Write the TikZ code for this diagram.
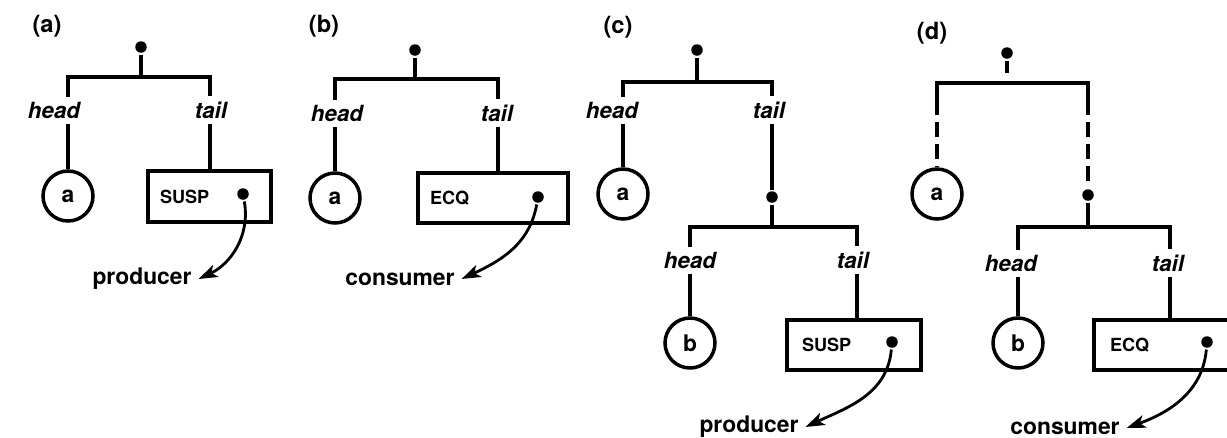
\documentclass[tikz,border=0pt]{standalone}
\usepackage{fontspec}
\setmainfont{TeX Gyre Heros}
\usetikzlibrary{arrows.meta}

\begin{document}
\begin{tikzpicture}[x=0.02cm, y=-0.02cm, line width=2pt, every node/.style={align=center}]
\tikzset{
  lbl/.style={inner sep=0pt, font=\fontsize{13.5}{15}\selectfont\bfseries},
  leaf/.style={draw, circle, minimum size=1cm, inner sep=0pt, font=\fontsize{13}{15}\selectfont\bfseries},
  rec/.style={draw, rectangle, inner sep=0pt},
  intxt/.style={inner sep=0pt, anchor=west, font=\fontsize{10.3}{12}\selectfont\bfseries},
  jdot/.style={fill, circle, minimum size=0.23cm, inner sep=0pt},
  fld/.style={inner sep=2pt, font=\fontsize{12.7}{14}\selectfont\bfseries\itshape},
  ext/.style={inner sep=3pt, font=\fontsize{13}{15}\selectfont\bfseries},
  flow/.style={line width=1.6pt, -{Stealth[length=0.38cm, width=0.26cm, inset=0.1cm]}},
  gone/.style={dash pattern=on 0.3cm off 0.14cm}
}
\useasboundingbox (0,0) rectangle (1227,437);

\node[lbl] (la) at (47,26) {(a)};
\node[jdot] (ra) at (141,47) {};
\coordinate (al) at (68,77);
\coordinate (ar) at (210,77);
\node[fld] (ha) at (54,110) {head};
\node[fld] (ta) at (211,110) {tail};
\node[leaf] (ca) at (68,196) {a};
\node[rec, minimum width=2.46cm, minimum height=1.02cm] (ba) at (209.5,196.5) {};
\node[intxt] (sa) at ([xshift=0.24cm]ba.west) {SUSP};
\node[jdot] (da) at (243,194) {};
\node[ext] (pa) at (142,279) {producer};
\draw (ra) -- (ra |- al);
\draw (ha.north -| al) -- (al) -- (ar) -- (ta.north -| ar);
\draw (ha.south -| al) -- (ca.north);
\draw (ta.south -| ar) -- (ba.north -| ar);
\draw[flow] (da) to[out=-80, in=25] (pa.east);

\node[lbl] (lb) at (324,26) {(b)};
\node[jdot] (rb) at (415,50) {};
\coordinate (bl) at (335,79);
\coordinate (br) at (498,79);
\node[fld] (hb) at (337,113) {head};
\node[fld] (tb) at (497,113) {tail};
\node[leaf] (cb) at (335,198) {a};
\node[rec, minimum width=3cm, minimum height=1cm] (bb) at (493,198) {};
\node[intxt] (sb) at ([xshift=0.24cm]bb.west) {ECQ};
\node[jdot] (db) at (538,197) {};
\node[ext] (qb) at (400,279) {consumer};
\draw (rb) -- (rb |- bl);
\draw (hb.north -| bl) -- (bl) -- (br) -- (tb.north -| br);
\draw (hb.south -| bl) -- (cb.north);
\draw (tb.south -| br) -- (bb.north -| br);
\draw[flow] (db) to[out=-100, in=25] (qb.east);

\node[lbl] (lc) at (618,27) {(c)};
\node[jdot] (rc) at (697,50) {};
\coordinate (cl) at (623,82);
\coordinate (cr) at (772,82);
\node[fld] (hc) at (612,110) {head};
\node[fld] (tc) at (769,110) {tail};
\node[leaf] (cac) at (623,194) {a};
\node[jdot] (mc) at (772,197) {};
\coordinate (cl2) at (690,227);
\coordinate (cr2) at (857,227);
\node[fld] (hc2) at (690,260) {head};
\node[fld] (tc2) at (853,260) {tail};
\node[leaf] (cbc) at (690,343) {b};
\node[rec, minimum width=2.68cm, minimum height=1cm] (bc) at (854,345) {};
\node[intxt] (sc) at ([xshift=0.3cm]bc.west) {SUSP};
\node[jdot] (dc) at (892,342) {};
\node[ext] (pc) at (749,427) {producer};
\draw (rc) -- (rc |- cl);
\draw (hc.north -| cl) -- (cl) -- (cr) -- (tc.north -| cr);
\draw (hc.south -| cl) -- (cac.north);
\draw (tc.south -| cr) -- (mc) -- (mc |- cl2);
\draw (hc2.north -| cl2) -- (cl2) -- (cr2) -- (tc2.north -| cr2);
\draw (hc2.south -| cl2) -- (cbc.north);
\draw (tc2.south -| cr2) -- (bc.north -| cr2);
\draw[flow] (dc) to[out=-95, in=25] (pc.east);

\node[lbl] (ld) at (932,33) {(d)};
\node[jdot] (rd) at (1007,53) {};
\coordinate (sd) at (1007,73);
\coordinate (dl) at (937,83);
\coordinate (dr) at (1088,83);
\coordinate (dl1) at (937,100);
\coordinate (dr1) at (1088,100);
\node[leaf] (cad) at (937,194) {a};
\node[jdot] (md) at (1088,195) {};
\coordinate (dl2) at (1018,227);
\coordinate (dr2) at (1170,227);
\node[fld] (hd2) at (1011,263) {head};
\node[fld] (td2) at (1168,263) {tail};
\node[leaf] (cbd) at (1018,343) {b};
\node[rec, minimum width=3.02cm, minimum height=1cm] (bd) at (1169.5,345) {};
\node[intxt] (sdq) at ([xshift=0.32cm]bd.west) {ECQ};
\node[jdot] (dd) at (1207,342) {};
\node[ext] (qd) at (1065,428) {consumer};
\draw (rd) -- (sd);
\draw (dl1) -- (dl) -- (dr) -- (dr1);
\draw[gone] (dl1) -- (cad.north);
\draw[gone] (dr1) -- (md);
\draw (md) -- (md |- dl2);
\draw (hd2.north -| dl2) -- (dl2) -- (dr2) -- (td2.north -| dr2);
\draw (hd2.south -| dl2) -- (cbd.north);
\draw (td2.south -| dr2) -- (bd.north -| dr2);
\draw[flow] (dd) to[out=-95, in=20] (qd.east);
\end{tikzpicture}
\end{document}
